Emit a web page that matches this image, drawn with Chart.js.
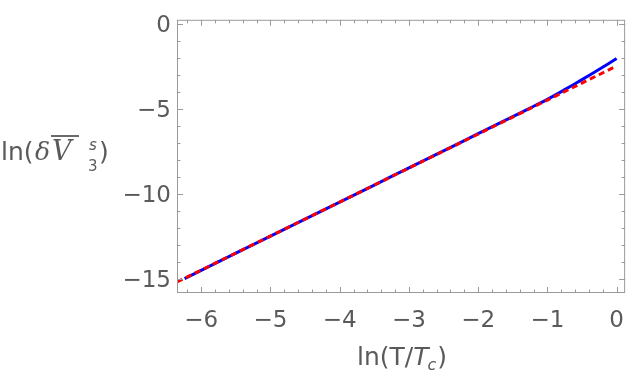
<!DOCTYPE html>
<html>
<head>
<meta charset="utf-8">
<script src="https://cdn.jsdelivr.net/npm/chart.js@4/dist/chart.umd.min.js"></script>
<style>
  html, body { margin: 0; padding: 0; background: #fff; }
  #wrap { width: 638px; height: 382px; }
</style>
</head>
<body>
<div id="wrap"><canvas id="plot" width="638" height="382"></canvas></div>
<script>
// data
const xBlue = [-6.24, -5.5, -5, -4.5, -4, -3.5, -3, -2.5, -2, -1.5, -1.25, -1, -0.75, -0.5, -0.25, 0];
const yBlue = [-15.0, -13.5, -12.5, -11.5, -10.5, -9.5, -8.49, -7.49, -6.48, -5.47, -4.97, -4.46, -3.89, -3.30, -2.69, -2.06];
const xRed = [-6.35, -5.5, -5, -4.5, -4, -3.5, -3, -2.5, -2, -1.5, -1, -0.5, 0];
const yRed = [-15.2, -13.5, -12.5, -11.5, -10.5, -9.5, -8.5, -7.5, -6.5, -5.5, -4.5, -3.5, -2.5];
const xTicks = [-6, -5, -4, -3, -2, -1, 0];
const yTicks = [0, -5, -10, -15];

const frameColor = "#9a9a9a";
const labelColor = "#5a5a5a";
const tickFont = { family: "'DejaVu Sans', sans-serif", size: 23 };

function pts(xs, ys) {
  return xs.map((x, i) => ({ x: x, y: ys[i] }));
}

function fmt(v) {
  return String(v).replace("-", "\u2212");
}

// frame with inward ticks on all four sides, plus axis titles
const framePlugin = {
  id: "frame",
  afterDraw(chart) {
    const ctx = chart.ctx;
    const a = chart.chartArea;
    const xs = chart.scales.x, ys = chart.scales.y;
    ctx.save();
    ctx.strokeStyle = frameColor;
    ctx.lineWidth = 1;
    ctx.strokeRect(a.left + 0.5, a.top + 0.5, a.right - a.left - 1, a.bottom - a.top - 1);
    ctx.beginPath();
    for (let k = -35; k <= 0; k++) {
      const v = k / 5;
      const p = Math.round(xs.getPixelForValue(v)) + 0.5;
      if (p < a.left || p > a.right) continue;
      const len = (k % 5 === 0) ? 6 : 3.5;
      ctx.moveTo(p, a.bottom); ctx.lineTo(p, a.bottom - len);
      ctx.moveTo(p, a.top); ctx.lineTo(p, a.top + len);
    }
    for (let v = -16; v <= 0; v++) {
      const p = Math.round(ys.getPixelForValue(v)) + 0.5;
      if (p < a.top || p > a.bottom) continue;
      const len = (v % 5 === 0) ? 6 : 3.5;
      ctx.moveTo(a.left, p); ctx.lineTo(a.left + len, p);
      ctx.moveTo(a.right, p); ctx.lineTo(a.right - len, p);
    }
    ctx.stroke();

    ctx.fillStyle = labelColor;
    ctx.strokeStyle = labelColor;
    ctx.textBaseline = "alphabetic";
    ctx.textAlign = "left";

    // y title: ln(δV̄ s/3)
    const base = 160;
    ctx.font = "25px 'DejaVu Sans', sans-serif";
    ctx.fillText("ln(", 1, base);
    ctx.font = "italic 25px 'DejaVu Serif', serif";
    ctx.fillText("\u03b4", 35, base);
    ctx.font = "italic 27px 'DejaVu Serif', serif";
    ctx.fillText("V", 52, base);
    ctx.lineWidth = 1.8;
    ctx.beginPath();
    ctx.moveTo(51, base - 24);
    ctx.lineTo(79, base - 24);
    ctx.stroke();
    ctx.font = "italic 15px 'DejaVu Sans', sans-serif";
    ctx.fillText("s", 89, base - 10);
    ctx.font = "15px 'DejaVu Sans', sans-serif";
    ctx.fillText("3", 88, base + 11);
    ctx.font = "25px 'DejaVu Sans', sans-serif";
    ctx.fillText(")", 99, base);

    // x title: ln(T/T_c)
    let x = 357;
    const xb = 365;
    ctx.font = "25px 'DejaVu Sans', sans-serif";
    ctx.fillText("ln(T/", x, xb);
    x += ctx.measureText("ln(T/").width;
    ctx.font = "italic 25px 'DejaVu Sans', sans-serif";
    ctx.fillText("T", x, xb);
    x += ctx.measureText("T").width - 1;
    ctx.font = "italic 16px 'DejaVu Sans', sans-serif";
    ctx.fillText("c", x, xb + 5);
    x += ctx.measureText("c").width + 1;
    ctx.font = "25px 'DejaVu Sans', sans-serif";
    ctx.fillText(")", x, xb);
    ctx.restore();
  }
};

new Chart(document.getElementById("plot"), {
  type: "scatter",
  data: {
    datasets: [{
      label: "full",
      data: pts(xBlue, yBlue),
      showLine: true,
      borderColor: "#0000ff",
      borderWidth: 3,
      pointRadius: 0,
      tension: 0.3,
      order: 2
    }, {
      label: "approx",
      data: pts(xRed, yRed),
      showLine: true,
      borderColor: "#ff0000",
      borderWidth: 3,
      borderDash: [6, 4],
      pointRadius: 0,
      tension: 0,
      order: 1
    }]
  },
  options: {
    responsive: false,
    animation: false,
    layout: { padding: { left: 0, right: 4, top: 12, bottom: 0 } },
    plugins: { legend: { display: false }, tooltip: { enabled: false } },
    scales: {
      x: {
        type: "linear",
        min: -6.35,
        max: 0.123,
        grid: { display: false, drawTicks: false },
        border: { display: false },
        afterBuildTicks: s => { s.ticks = xTicks.map(v => ({ value: v })); },
        afterFit: s => { s.height = 89; },
        ticks: {
          padding: 14,
          color: labelColor,
          font: tickFont,
          maxRotation: 0,
          callback: v => fmt(v)
        }
      },
      y: {
        type: "linear",
        min: -15.85,
        max: 0.22,
        grid: { display: false, drawTicks: false },
        border: { display: false },
        afterBuildTicks: s => { s.ticks = yTicks.map(v => ({ value: v })); },
        afterFit: s => { s.width = 177; },
        ticks: {
          padding: 6,
          labelOffset: 2,
          color: labelColor,
          font: tickFont,
          callback: v => fmt(v)
        }
      }
    }
  },
  plugins: [framePlugin]
});
</script>
</body>
</html>
